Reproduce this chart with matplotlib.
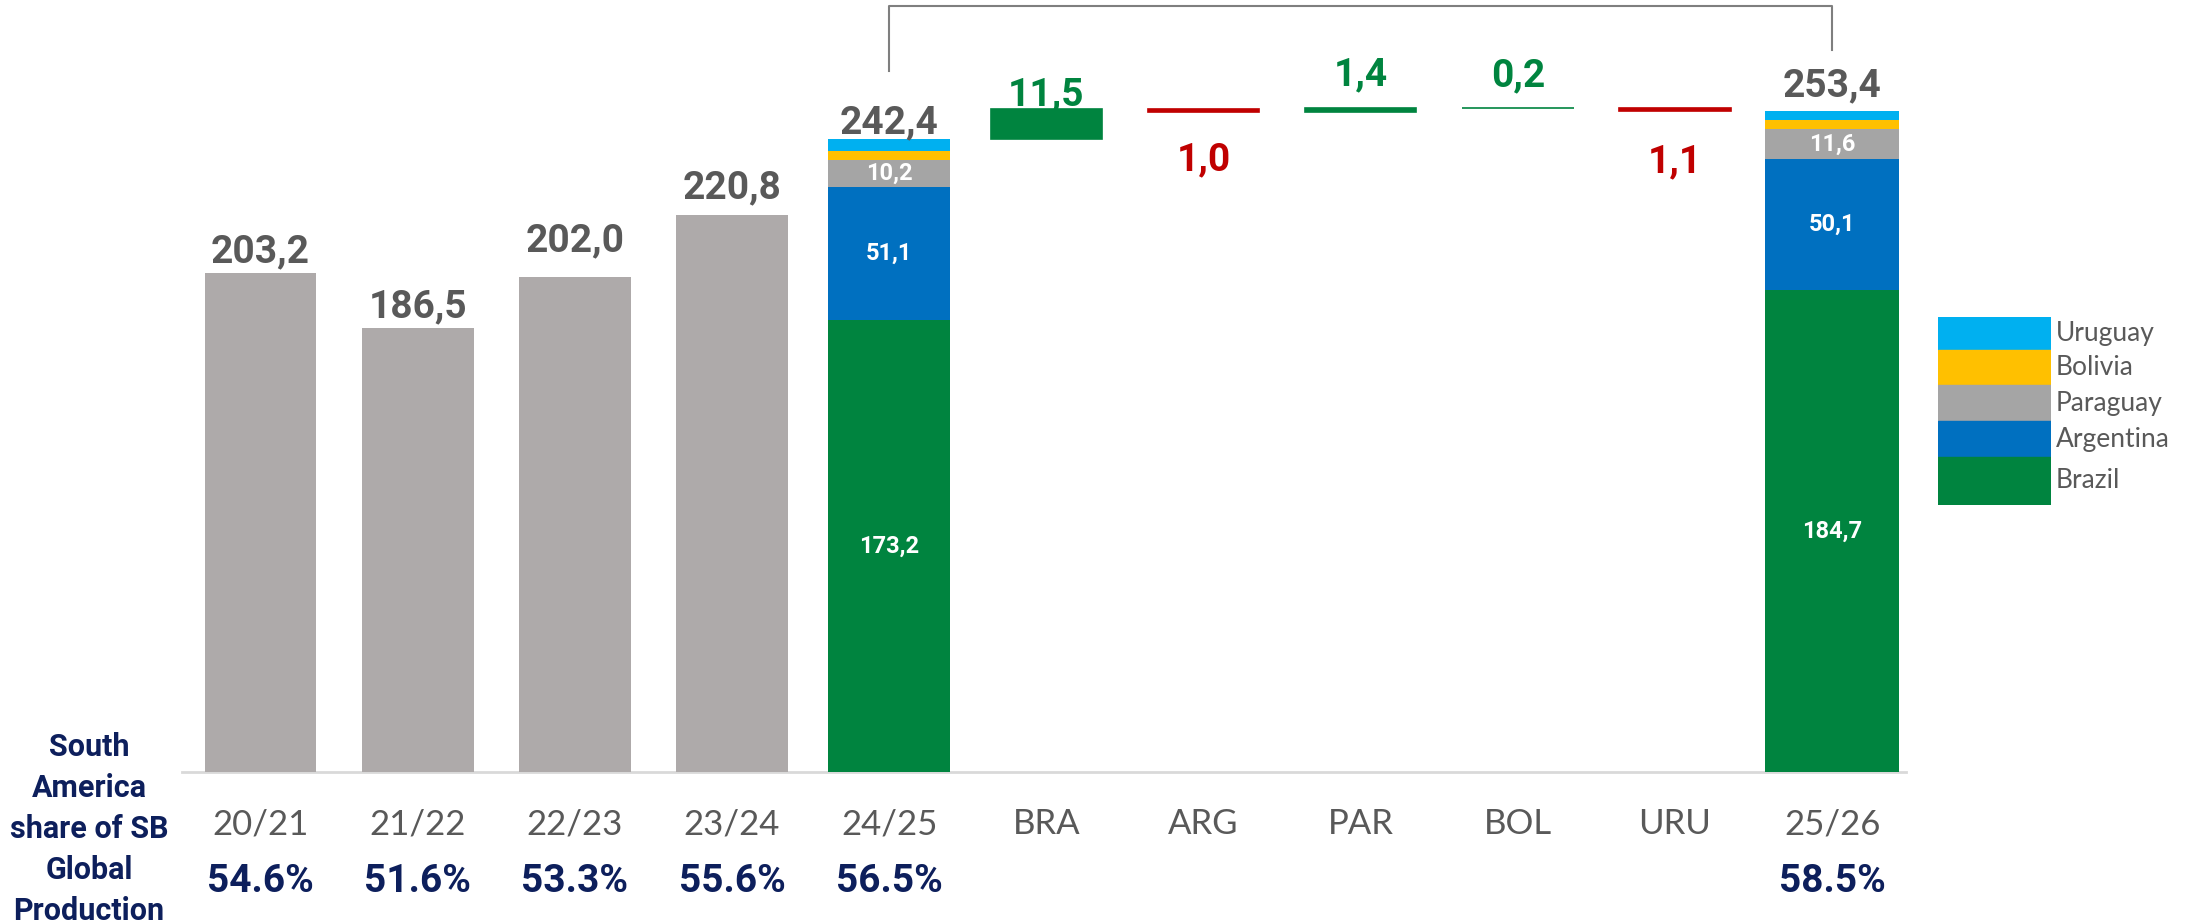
import matplotlib
matplotlib.use('Agg')
import matplotlib.pyplot as plt
import matplotlib.transforms as mtransforms
from matplotlib.patches import Rectangle
import numpy as np

# historical South America soybean production (grey bars)
hist_labels = ['20/21', '21/22', '22/23', '23/24']
hist_totals = [203.2, 186.5, 202.0, 220.8]

# country breakdown for the last two seasons
countries = ['Brazil', 'Argentina', 'Paraguay', 'Bolivia', 'Uruguay']
prod_2425 = [173.2, 51.1, 10.2, 3.4, 4.5]
prod_2526 = [184.7, 50.1, 11.6, 3.6, 3.4]
labelled_countries = ['Brazil', 'Argentina', 'Paraguay']

# change per country 24/25 -> 25/26
delta_labels = ['BRA', 'ARG', 'PAR', 'BOL', 'URU']
deltas = [11.5, -1.0, 1.4, 0.2, -1.1]

# South America share of global soybean production
share_text = ['54.6%', '51.6%', '53.3%', '55.6%', '56.5%', '', '', '', '', '', '58.5%']

all_labels = hist_labels + ['24/25'] + delta_labels + ['25/26']

# colours
GREY_BAR = '#AEAAAA'
COUNTRY_COLORS = {'Brazil': '#00843F', 'Argentina': '#0070C0', 'Paraguay': '#A5A5A5',
                  'Bolivia': '#FFC000', 'Uruguay': '#00B0F0'}
UP = '#00843F'
DOWN = '#C00000'
DARK = '#595959'
NAVY = '#0D1F5C'

NUM_FONT = 'Roboto'
TXT_FONT = 'Lato'

PX = 0.72  # points per pixel at dpi 100


def fmt(v):
    return f'{abs(v):.1f}'.replace('.', ',')


fig = plt.figure(figsize=(21.96, 9.24), dpi=100)
ax = fig.add_axes([182 / 2196, 152 / 924, 1724 / 2196, 772 / 924])
ax2 = ax.twinx()
ax.set_xlim(-0.5, 10.47)
ax.set_ylim(52, 52 + 772 / 3.3)
ax2.set_ylim(0, 772 / 2.61)

# grey historical bars
x_hist = np.arange(len(hist_totals))
ax.bar(x_hist, hist_totals, width=0.71, color=GREY_BAR, zorder=2)
total_offsets = [11, 11, 26, 17]
for xi, v, off in zip(x_hist, hist_totals, total_offsets):
    ax.annotate(fmt(v), (xi, v), xytext=(0, off * PX), textcoords='offset points',
                ha='center', va='baseline', fontsize=28, fontweight='bold',
                color=DARK, family=NUM_FONT)

# stacked bars 24/25 and 25/26
x_a, x_b = 4, 10
for xpos, vals, w, off in [(x_a, prod_2425, 0.78, 6), (x_b, prod_2526, 0.85, 14)]:
    bottom = 0.0
    for name, v in zip(countries, vals):
        ax2.bar(xpos, v, bottom=bottom, width=w, color=COUNTRY_COLORS[name], zorder=2)
        if name in labelled_countries:
            ax2.text(xpos, bottom + v / 2, fmt(v), ha='center', va='center',
                     fontsize=17, fontweight='bold', color='white', family=NUM_FONT)
        bottom += v
    ax2.annotate(fmt(bottom), (xpos, bottom), xytext=(0, off * PX), textcoords='offset points',
                 ha='center', va='baseline', fontsize=28, fontweight='bold',
                 color=DARK, family=NUM_FONT)

# waterfall of changes
delta_offsets = [4, -58, 23, 21, -62]
running = sum(prod_2425)
for i, (d, off) in enumerate(zip(deltas, delta_offsets)):
    xpos = 5 + i
    col = UP if d > 0 else DOWN
    lo = min(running, running + d)
    ax2.bar(xpos, abs(d), bottom=lo, width=0.71, color=col, edgecolor=col,
            linewidth=1.2, zorder=2)
    anchor = lo + abs(d) if d > 0 else lo
    ax2.annotate(fmt(d), (xpos, anchor), xytext=(0, off * PX), textcoords='offset points',
                 ha='center', va='baseline', fontsize=28, fontweight='bold',
                 color=col, family=NUM_FONT)
    running += d

# bracket joining the two seasons
btrans = mtransforms.blended_transform_factory(ax.transData, ax.transAxes)
ax.plot([x_a, x_a, x_b, x_b], [0.908, 0.992, 0.992, 0.935], color='#7F7F7F',
        lw=1.5, transform=btrans, clip_on=False, zorder=3)

# axes styling
for a in (ax, ax2):
    for s in ['top', 'left', 'right']:
        a.spines[s].set_visible(False)
    a.set_yticks([])
ax2.spines['bottom'].set_visible(False)
ax.spines['bottom'].set_color('#D9D9D9')
ax.spines['bottom'].set_linewidth(2)
ax.spines['bottom'].set_zorder(1)

ax.set_xticks(range(len(all_labels)), all_labels)
ax.tick_params(axis='x', length=0, pad=26, labelsize=25, labelcolor=DARK)
for lbl in ax.get_xticklabels():
    lbl.set_fontfamily(TXT_FONT)
    lbl.set_fontweight('normal')

# share row
for xi, s in enumerate(share_text):
    if s:
        ax.text(xi, -0.1554, s, transform=btrans, ha='center', va='baseline',
                fontsize=28, fontweight='bold', color=NAVY, family=NUM_FONT)

fig.text(89 / 2196, 1 - 829 / 924, 'South\nAmerica\nshare of SB\nGlobal\nProduction',
         ha='center', va='center', multialignment='center', fontsize=22,
         fontweight='bold', color=NAVY, family=NUM_FONT, linespacing=1.45)

# legend drawn as touching colour blocks
lax = fig.add_axes([1938 / 2196, 1 - 505 / 924, 113 / 2196, 188 / 924])
lax.set_xlim(0, 1)
lax.set_ylim(505, 317)
lax.axis('off')
legend_edges = [317, 350, 385, 421, 457, 505]
for j, name in enumerate(countries[::-1]):
    y0, y1 = legend_edges[j], legend_edges[j + 1]
    lax.add_patch(Rectangle((0, y0), 1, y1 - y0, color=COUNTRY_COLORS[name]))
    lax.text(1.04, (y0 + y1) / 2, name, ha='left', va='center', fontsize=19,
             color=DARK, family=TXT_FONT, clip_on=False)

fig.savefig('out.png', dpi=100)
